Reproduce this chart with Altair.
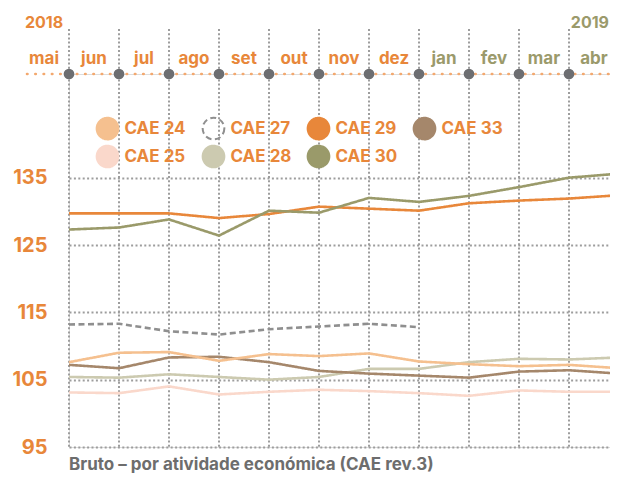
import altair as alt
import pandas as pd

# ---------------- data ----------------
months = ["mai", "jun", "jul", "ago", "set", "out", "nov", "dez", "jan", "fev", "mar", "abr"]
month_year = ["2018"] * 8 + ["2019"] * 4
years = ["2018", "2019"]
year_month_idx = [0, 11]

series = ["CAE 24", "CAE 25", "CAE 27", "CAE 28", "CAE 29", "CAE 30", "CAE 33"]
cae24 = [107.6, 109.0, 109.1, 107.8, 108.8, 108.5, 108.9, 107.7, 107.3, 107.0, 107.2, 106.7]
cae25 = [103.1, 103.0, 104.0, 102.8, 103.2, 103.5, 103.3, 103.0, 102.6, 103.4, 103.2, 103.2]
cae27 = [113.2, 113.3, 112.2, 111.7, 112.5, 112.9, 113.3, 112.8, None, None, None, None]
cae28 = [105.4, 105.3, 105.8, 105.4, 105.0, 105.4, 106.6, 106.6, 107.6, 108.1, 108.0, 108.3]
cae29 = [129.7, 129.7, 129.7, 129.0, 129.6, 130.7, 130.4, 130.1, 131.2, 131.6, 131.9, 132.4]
cae30 = [127.3, 127.6, 128.8, 126.4, 130.1, 129.8, 132.0, 131.4, 132.3, 133.6, 135.0, 135.6]
cae33 = [107.2, 106.7, 108.3, 108.4, 107.6, 106.3, 105.9, 105.6, 105.3, 106.2, 106.4, 105.9]
y_ticks = [95, 105, 115, 125, 135]

values_by_series = {
    "CAE 24": cae24, "CAE 25": cae25, "CAE 27": cae27, "CAE 28": cae28,
    "CAE 29": cae29, "CAE 30": cae30, "CAE 33": cae33,
}
draw_order = ["CAE 25", "CAE 28", "CAE 33", "CAE 24", "CAE 27", "CAE 29", "CAE 30"]
rows = []
for order, s in enumerate(draw_order):
    for i, v in enumerate(values_by_series[s]):
        if v is not None:
            rows.append({"series": s, "idx": i, "value": v, "order": order})
df_lines = pd.DataFrame(rows)
df_months = pd.DataFrame({"idx": list(range(len(months))), "month": months, "year": month_year})
df_years = pd.DataFrame({"idx": year_month_idx, "year": years})

# ---------------- style ----------------
FONT = "Inter"
ORANGE = "#e8873a"
OLIVE = "#9b9a6b"
GRID = "#9d9d9d"
DOT = "#6d6e71"
ORANGE_DOTS = "#f3a86e"
TITLE_GRAY = "#6d6d6d"

color_map = {
    "CAE 24": "#f5c08f", "CAE 27": "#8f8f8f", "CAE 29": "#e8873a", "CAE 33": "#a5876b",
    "CAE 25": "#fad8cb", "CAE 28": "#cccab0", "CAE 30": "#9a9a6a",
}
stroke_range = [color_map[s] for s in series]
fill_range = ["transparent" if s == "CAE 27" else color_map[s] for s in series]
dash_range = [[6, 3.5] if s == "CAE 27" else [1, 0] for s in series]

STEP = 50                  # pixels between months
W, H = 541, 373            # plot area
x_scale = alt.Scale(domain=[0, W / STEP], nice=False, zero=False)
y_scale = alt.Scale(domain=[95, 150.4], nice=False, zero=False)

stroke_scale = alt.Scale(domain=series, range=stroke_range)
fill_scale = alt.Scale(domain=series, range=fill_range)
dash_scale = alt.Scale(domain=series, range=dash_range)

legend = alt.Legend(
    orient="none", legendX=26.5, legendY=42.5, columns=4, title=None,
    symbolType="circle", symbolSize=470, symbolStrokeWidth=2, symbolOpacity=1,
    labelFont=FONT, labelFontSize=17, labelFontWeight="bold", labelColor=ORANGE,
    labelOffset=5, columnPadding=12, rowPadding=-2, padding=0,
)

y_axis = alt.Axis(
    values=y_ticks, grid=True, gridDash=[2, 2.4], gridColor=GRID, gridWidth=2,
    ticks=False, domain=False, labelColor=ORANGE, labelFont=FONT,
    labelFontSize=20, labelFontWeight="bold", labelPadding=22, title=None,
)

legend_layer = alt.Chart(df_lines).mark_point(filled=True, shape="circle", opacity=1).encode(
    fill=alt.Fill("series:N", scale=fill_scale, legend=legend),
    stroke=alt.Stroke("series:N", scale=stroke_scale, legend=legend),
    strokeDash=alt.StrokeDash("series:N", scale=dash_scale, legend=legend),
).transform_filter("false")

vrules = alt.Chart(df_months).mark_rule(
    color=GRID, strokeWidth=2, strokeDash=[2, 2.2]
).encode(
    x=alt.X("idx:Q", scale=x_scale, axis=None),
    y=alt.value(-45),
    y2=alt.value(H),
)

orange_line = alt.Chart(df_months).transform_filter("datum.idx == 0").mark_rule(
    color=ORANGE_DOTS, strokeWidth=2.6, strokeDash=[0.5, 7.8], strokeCap="round"
).encode(
    x=alt.value(-42), x2=alt.value(W + 10), y=alt.value(0),
)

lines = alt.Chart(df_lines).mark_line(strokeWidth=2.6).encode(
    x=alt.X("idx:Q", scale=x_scale, axis=None),
    y=alt.Y("value:Q", scale=y_scale, axis=y_axis),
    stroke=alt.Stroke("series:N", scale=stroke_scale, legend=None),
    strokeDash=alt.StrokeDash("series:N", scale=dash_scale, legend=None),
    order="order:Q",
)

dots = alt.Chart(df_months).mark_circle(size=115, color=DOT, opacity=1).encode(
    x=alt.X("idx:Q", scale=x_scale, axis=None),
    y=alt.value(0),
)

year_color = alt.condition("datum.year == '2019'", alt.value(OLIVE), alt.value(ORANGE))

month_text = alt.Chart(df_months).mark_text(
    dx=-STEP / 2, baseline="alphabetic", align="center", font=FONT, fontSize=17, fontWeight="bold"
).encode(
    x=alt.X("idx:Q", scale=x_scale, axis=None),
    y=alt.value(-10),
    text="month:N",
    color=year_color,
)

year_first = alt.Chart(df_years).transform_filter("datum.year == '2018'").mark_text(
    dx=-STEP / 2, baseline="alphabetic", align="center", font=FONT, fontSize=16, fontWeight="bold"
).encode(
    x=alt.X("idx:Q", scale=x_scale, axis=None),
    y=alt.value(-46),
    text="year:N",
    color=year_color,
)

year_last = alt.Chart(df_years).transform_filter("datum.year == '2019'").mark_text(
    dx=-10, baseline="alphabetic", align="right", font=FONT, fontSize=16, fontWeight="bold"
).encode(
    x=alt.X("idx:Q", scale=x_scale, axis=None),
    y=alt.value(-46),
    text="year:N",
    color=year_color,
)

chart = alt.layer(
    legend_layer, vrules, orange_line, lines, dots, month_text, year_first, year_last
).properties(
    width=W, height=H,
    padding={"left": 61, "top": 66, "right": 0, "bottom": 26},
    autosize=alt.AutoSizeParams(type="none"),
    title=alt.TitleParams(
        "Bruto – por atividade económica (CAE rev.3)",
        orient="bottom", anchor="start", frame="group", offset=0,
        font=FONT, fontSize=17, fontWeight="bold", color=TITLE_GRAY,
    ),
).configure_view(stroke=None).configure(background="white")

chart.save("out.html", embed_options={"renderer": "svg", "actions": False})
